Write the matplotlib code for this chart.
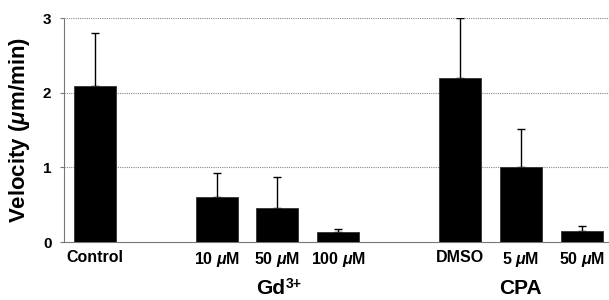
import matplotlib
matplotlib.use("Agg")
from matplotlib import pyplot as plt
import numpy as np

plt.rcParams['font.family'] = ['Liberation Sans', 'DejaVu Sans']
plt.rcParams['mathtext.fontset'] = 'custom'
plt.rcParams['mathtext.rm'] = 'Liberation Sans:bold'
plt.rcParams['mathtext.it'] = 'Liberation Sans:italic:bold'
plt.rcParams['mathtext.bf'] = 'Liberation Sans:bold'

labels = ['Control', '10 $\\mu$M', '50 $\\mu$M', '100 $\\mu$M', 'DMSO', '5 $\\mu$M', '50 $\\mu$M']
pos = [0, 2, 3, 4, 6, 7, 8]
velocity = [2.09, 0.61, 0.46, 0.14, 2.2, 1.01, 0.15]
err_top = [2.8, 0.93, 0.87, 0.18, 3.0, 1.52, 0.22]
groups = ['Gd', 'CPA']
group_pos = [3, 7]

fig = plt.figure(figsize=(6.09, 3.0), dpi=100)
ax = fig.add_axes([0.105, 0.193, 0.91, 0.747])

yerr = np.array(err_top) - np.array(velocity)
ax.bar(pos, velocity, width=0.69, color='black', edgecolor='#333333', linewidth=0.6, zorder=3)
ax.errorbar(pos, velocity, yerr=[np.zeros(len(pos)), yerr], fmt='none',
            ecolor='black', elinewidth=1, capsize=3, capthick=1, zorder=2)

ax.set_ylim(0, 3)
ax.set_xlim(-0.51, 8.6)
ax.set_yticks([0, 1, 2, 3])
ax.set_yticklabels(['0', '1', '2', '3'], fontweight='bold', fontsize=11)
ax.set_xticks(pos)
ax.set_xticklabels(labels, fontweight='bold', fontsize=11.5)
ax.tick_params(axis='x', length=0, pad=6)
ax.tick_params(axis='y', length=3, width=0.8, color='#777777', pad=6)

for y in [1, 2, 3]:
    ax.axhline(y, color='#888888', linestyle=(0, (1, 1)), linewidth=0.8, zorder=1)

for s in ['top', 'right']:
    ax.spines[s].set_visible(False)
for s in ['left', 'bottom']:
    ax.spines[s].set_color('#777777')
    ax.spines[s].set_linestyle((0, (1, 1)))
    ax.spines[s].set_linewidth(0.8)

ax.set_ylabel('Velocity ($\\mu$m/min)', fontsize=16, fontweight='bold', labelpad=8)

# group labels; Gd gets its charge as a small raised text
ax.text(group_pos[0] + 0.12, -0.5, groups[0], ha='right', va='top', fontsize=15,
        fontweight='bold')
ax.text(group_pos[0] + 0.13, -0.47, '3+', ha='left', va='top', fontsize=10,
        fontweight='bold')
ax.text(group_pos[1], -0.5, groups[1], ha='center', va='top', fontsize=15,
        fontweight='bold')

fig.savefig('out.png', dpi=100)
